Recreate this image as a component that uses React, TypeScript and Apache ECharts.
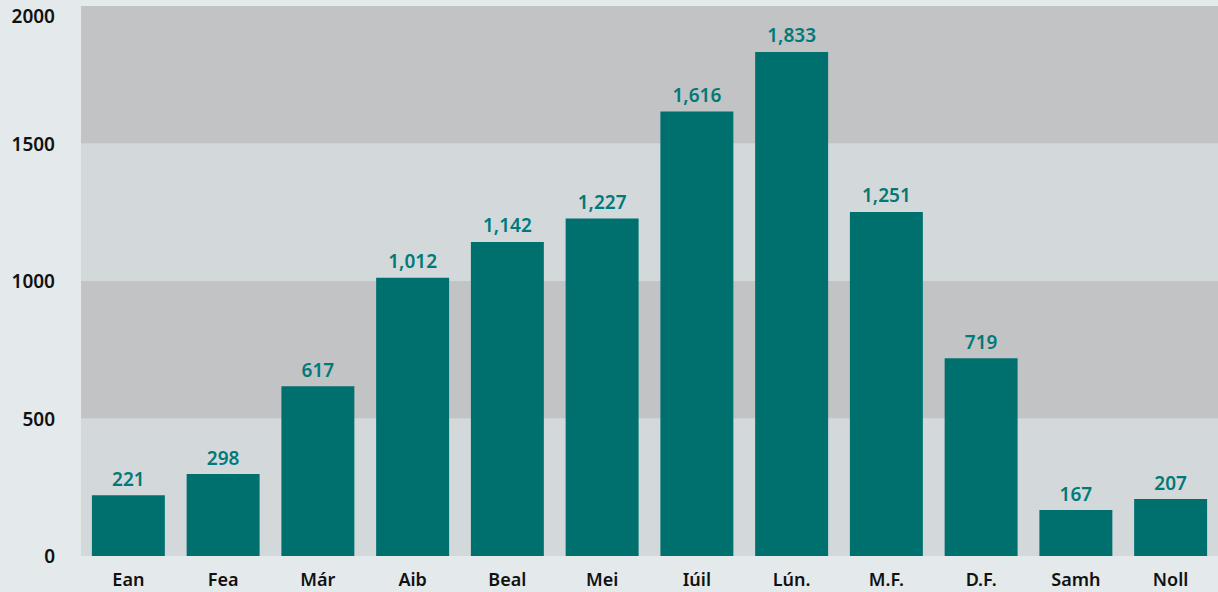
import React, { useEffect, useRef } from "react";
import * as echarts from "echarts";

const categories = ["Ean", "Fea", "Már", "Aib", "Beal", "Mei", "Iúil", "Lún.", "M.F.", "D.F.", "Samh", "Noll"];
const values = [221, 298, 617, 1012, 1142, 1227, 1616, 1833, 1251, 719, 167, 207];
const yTicks = [0, 500, 1000, 1500, 2000];

export default function App() {
  const ref = useRef<HTMLDivElement>(null);
  useEffect(() => {
    document.body.style.margin = "0";
    const chart = echarts.init(ref.current!, null, { renderer: "svg" });
    chart.setOption({
      animation: false,
      backgroundColor: "#e4e9ec",
      grid: { left: 81, right: 0, top: 6, bottom: 36, containLabel: false },
      xAxis: {
        type: "category",
        data: categories,
        axisLine: { show: false },
        axisTick: { show: false },
        axisLabel: {
          color: "#111",
          fontFamily: "Noto Sans",
          fontSize: 18,
          fontWeight: 600,
          margin: 14,
        },
      },
      yAxis: {
        type: "value",
        min: yTicks[0],
        max: yTicks[yTicks.length - 1],
        interval: 500,
        axisLine: { show: false },
        axisTick: { show: false },
        splitLine: { show: false },
        splitArea: { show: true, areaStyle: { color: ["#d3d8db", "#c2c3c5"] } },
        axisLabel: {
          color: "#111",
          fontFamily: "Noto Sans",
          fontSize: 19,
          fontWeight: 600,
          margin: 26,
          formatter: (v: number) => String(v),
          verticalAlignMaxLabel: "top",
        },
      },
      series: [
        {
          type: "bar",
          data: values,
          barCategoryGap: "23%",
          itemStyle: { color: "#00706f" },
          label: {
            show: true,
            position: "top",
            distance: 7,
            color: "#007a78",
            fontFamily: "Noto Sans",
            fontSize: 19,
            fontWeight: 600,
            formatter: (p: any) => Number(p.value).toLocaleString("en-US"),
          },
        },
      ],
    });
    return () => chart.dispose();
  }, []);
  return <div ref={ref} style={{ position: "absolute", left: 0, top: 0, width: 1218, height: 592 }} />;
}
